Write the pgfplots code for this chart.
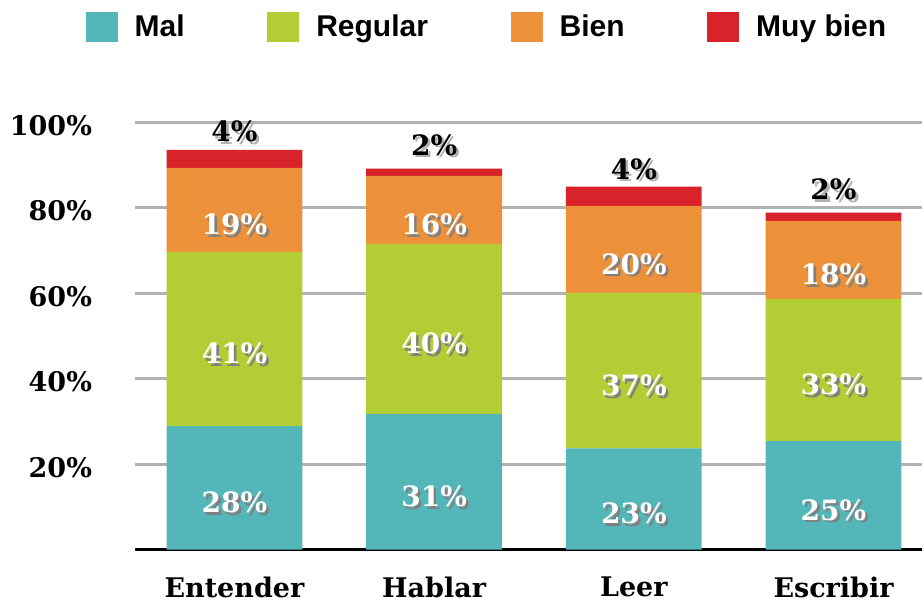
\documentclass[border=0pt]{standalone}
\usepackage{fontspec}
\setmainfont{DejaVu Serif}
\newfontfamily\legfont{Liberation Sans}
\usepackage{pgfplots}
\usepackage{pgfplotstable}
\pgfplotsset{compat=1.18}
\definecolor{cmal}{HTML}{53B7B9}
\definecolor{creg}{HTML}{B3CE35}
\definecolor{cbien}{HTML}{EC913A}
\definecolor{cmuy}{HTML}{D8232A}
\newcommand\shtext[2]{\leavevmode\rlap{\kern1.3pt\raisebox{-1.3pt}{\textcolor{#1}{#2}}}#2}
\pgfplotsset{sqlegend/.style={legend image code/.code={\fill[##1] (0pt,-7.5pt) rectangle (16pt,7.5pt);}}}

\pgfplotstableread{
x v l
0 28.9 28
1 31.7 31
2 23.7 23
3 25.4 25
}\tmal
\pgfplotstableread{
x v l
0 40.8 41
1 39.9 40
2 36.4 37
3 33.3 33
}\treg
\pgfplotstableread{
x v l
0 19.7 19
1 15.9 16
2 20.4 20
3 18.3 18
}\tbien
\pgfplotstableread{
x v l
0 4.2 4
1 1.7 2
2 4.5 4
3 1.9 2
}\tmuy

\begin{document}
\begin{tikzpicture}
\path[use as bounding box] (-67.5pt,-26.7pt) rectangle (393.5pt,274.8pt);
\begin{axis}[
  scale only axis, width=393.5pt, height=213.5pt,
  ybar stacked, bar width=0.68,
  xmin=-0.498, xmax=3.443, ymin=0, ymax=100,
  xtick={0,1,2,3}, xticklabels={Entender,Hablar,Leer,Escribir},
  ytick={20,40,60,80,100}, yticklabels={20\%,40\%,60\%,80\%,100\%},
  major tick length=0,
  axis x line*=bottom, axis y line*=left,
  x axis line style={black, line width=1.5pt, -},
  y axis line style={draw=none},
  ymajorgrids, grid style={draw=black!30, line width=1.5pt},
  tick label style={font=\bfseries\fontsize{13.5}{16}\selectfont},
  /pgf/number format/assume math mode=true,
  xticklabel style={yshift=-10pt},
  yticklabel style={xshift=-18pt, yshift=-1.5pt},
  clip=false,
  legend columns=4,
  legend style={draw=none, fill=none, at={(0.4485,1.224)}, anchor=center,
    font=\legfont\bfseries\fontsize{15}{18}\selectfont,
    /tikz/every odd column/.append style={column sep=6.5pt},
    /tikz/every even column/.append style={column sep=39.3pt}},
  point meta=explicit symbolic,
  nodes near coords={\shtext{black!50}{\pgfplotspointmeta\%}},
  every node near coord/.append style={font=\bfseries\fontsize{14}{16}\selectfont, text=white, anchor=center},
]
\addplot[fill=cmal, draw=none, sqlegend,
  every node near coord/.append style={yshift=-8pt}]
  table[x=x, y=v, meta=l] {\tmal};
\addplot[fill=creg, draw=none, sqlegend,
  every node near coord/.append style={yshift=-8pt}]
  table[x=x, y=v, meta=l] {\treg};
\addplot[fill=cbien, draw=none, sqlegend,
  every node near coord/.append style={yshift=-8pt}]
  table[x=x, y=v, meta=l] {\tbien};
\addplot[fill=cmuy, draw=none, sqlegend,
  nodes near coords={\shtext{black!30}{\pgfplotspointmeta\%}},
  every node near coord/.append style={text=black, yshift=13pt}]
  table[x=x, y=v, meta=l] {\tmuy};
\legend{Mal,Regular,Bien,Muy bien}
\end{axis}
\end{tikzpicture}
\end{document}
